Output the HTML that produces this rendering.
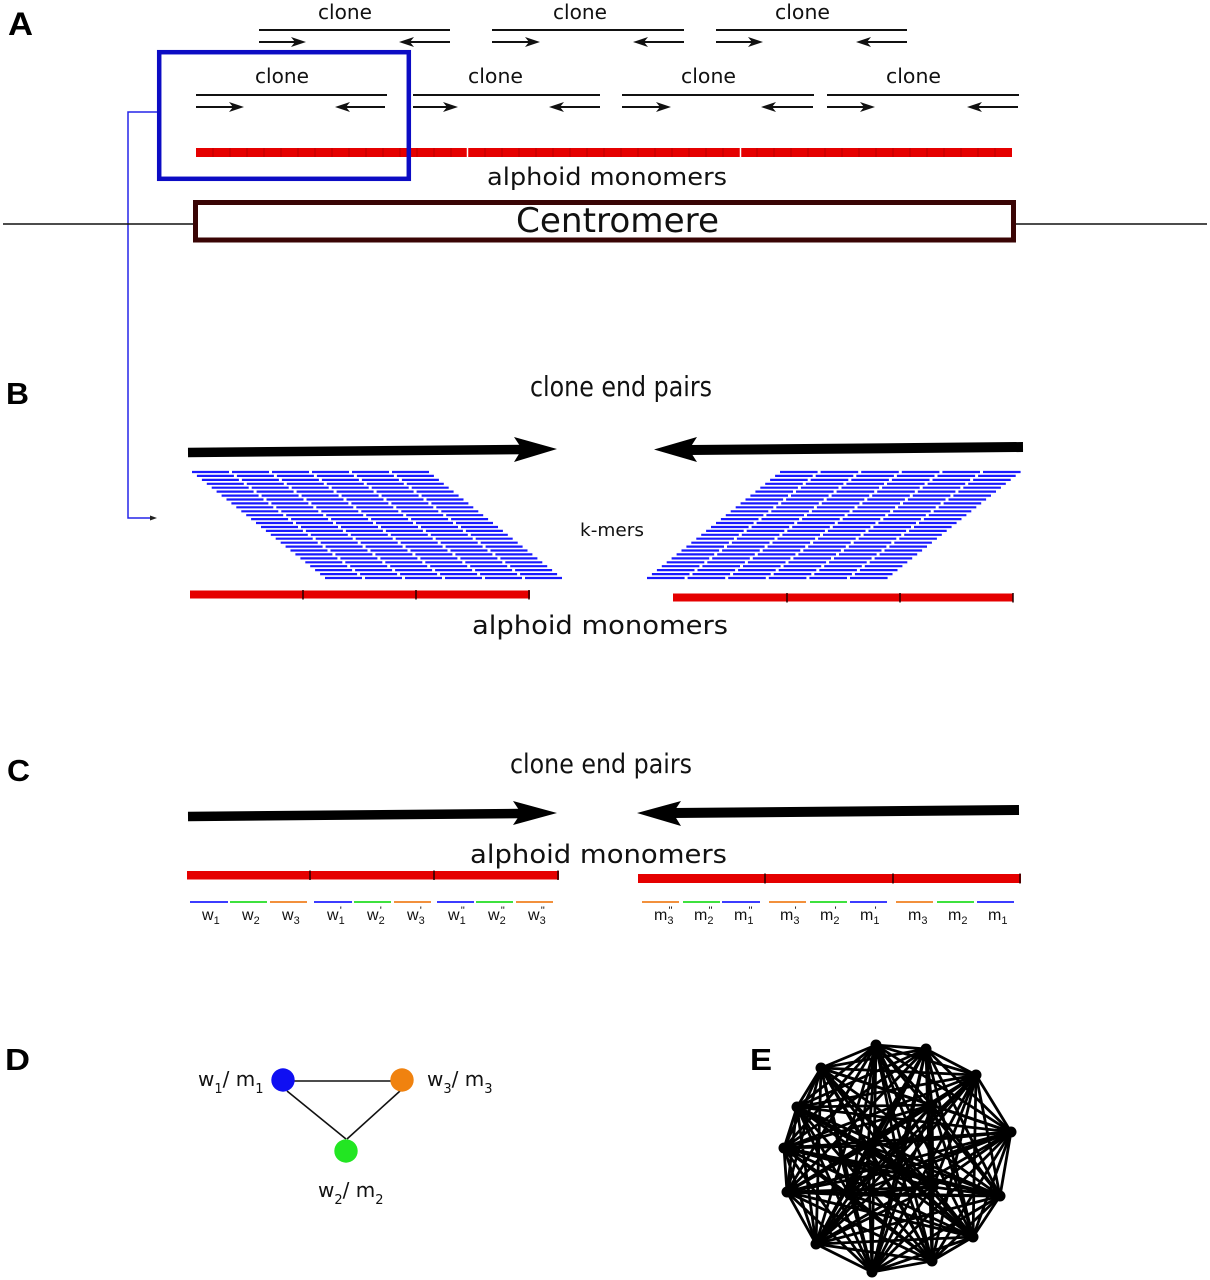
<!DOCTYPE html>
<html>
<head>
<meta charset="utf-8">
<style>
html,body{margin:0;padding:0;background:#fff;}
svg{display:block;}
text{font-family:"DejaVu Sans","Liberation Sans",sans-serif;fill:#111;}
.lbl{font-family:"Liberation Sans","DejaVu Sans",sans-serif;font-weight:bold;fill:#000;}
.sm{font-family:"Liberation Sans","DejaVu Sans",sans-serif;font-size:16px;}
</style>
</head>
<body>
<svg width="1210" height="1280" viewBox="0 0 1210 1280" xmlns="http://www.w3.org/2000/svg">
<rect width="1210" height="1280" fill="#fff"/>

<!-- ===== Panel A ===== -->
<text class="lbl" x="8" y="35" font-size="32" textLength="25" lengthAdjust="spacingAndGlyphs">A</text>

<g stroke="#111" stroke-width="2" fill="none">
  <line x1="259" y1="30" x2="450" y2="30"/>
  <line x1="492" y1="30" x2="684" y2="30"/>
  <line x1="716" y1="30" x2="907" y2="30"/>
  <line x1="259" y1="42" x2="296" y2="42"/>
  <line x1="450" y1="42" x2="409" y2="42"/>
  <line x1="492" y1="42" x2="530" y2="42"/>
  <line x1="684" y1="42" x2="643" y2="42"/>
  <line x1="716" y1="42" x2="753" y2="42"/>
  <line x1="907" y1="42" x2="866" y2="42"/>
  <line x1="196" y1="95" x2="387" y2="95"/>
  <line x1="413" y1="95" x2="600" y2="95"/>
  <line x1="622" y1="95" x2="814" y2="95"/>
  <line x1="827" y1="95" x2="1019" y2="95"/>
  <line x1="196" y1="107" x2="234" y2="107"/>
  <line x1="385" y1="107" x2="345" y2="107"/>
  <line x1="413" y1="107" x2="448" y2="107"/>
  <line x1="600" y1="107" x2="559" y2="107"/>
  <line x1="622" y1="107" x2="661" y2="107"/>
  <line x1="813" y1="107" x2="771" y2="107"/>
  <line x1="827" y1="107" x2="865" y2="107"/>
  <line x1="1018" y1="107" x2="977" y2="107"/>
</g>
<g fill="#111">
  <polygon points="306,42 291,37 295,42 291,47"/>
  <polygon points="399,42 414,37 410,42 414,47"/>
  <polygon points="540,42 525,37 529,42 525,47"/>
  <polygon points="633,42 648,37 644,42 648,47"/>
  <polygon points="763,42 748,37 752,42 748,47"/>
  <polygon points="856,42 871,37 867,42 871,47"/>
  <polygon points="244,107 229,102 233,107 229,112"/>
  <polygon points="335,107 350,102 346,107 350,112"/>
  <polygon points="458,107 443,102 447,107 443,112"/>
  <polygon points="549,107 564,102 560,107 564,112"/>
  <polygon points="671,107 656,102 660,107 656,112"/>
  <polygon points="761,107 776,102 772,107 776,112"/>
  <polygon points="875,107 860,102 864,107 860,112"/>
  <polygon points="967,107 982,102 978,107 982,112"/>
</g>
<g font-size="20">
  <text x="318" y="19" textLength="54" lengthAdjust="spacingAndGlyphs">clone</text>
  <text x="553" y="19" textLength="54" lengthAdjust="spacingAndGlyphs">clone</text>
  <text x="775" y="19" textLength="55" lengthAdjust="spacingAndGlyphs">clone</text>
  <text x="255" y="83" textLength="54" lengthAdjust="spacingAndGlyphs">clone</text>
  <text x="468" y="83" textLength="55" lengthAdjust="spacingAndGlyphs">clone</text>
  <text x="681" y="83" textLength="55" lengthAdjust="spacingAndGlyphs">clone</text>
  <text x="886" y="83" textLength="55" lengthAdjust="spacingAndGlyphs">clone</text>
</g>

<rect x="196" y="148" width="816" height="9" fill="#e50000"/>
<path d="M213 148v9M230 148v9M247 148v9M264 148v9M281 148v9M298 148v9M315 148v9M332 148v9M349 148v9M366 148v9M383 148v9M400 148v9M417 148v9M434 148v9M451 148v9M485 148v9M502 148v9M519 148v9M536 148v9M553 148v9M570 148v9M587 148v9M604 148v9M621 148v9M638 148v9M655 148v9M672 148v9M689 148v9M706 148v9M723 148v9M757 148v9M774 148v9M791 148v9M808 148v9M825 148v9M842 148v9M859 148v9M876 148v9M893 148v9M910 148v9M927 148v9M944 148v9M961 148v9M978 148v9M995 148v9" stroke="#a00000" stroke-width="0.9" opacity="0.7"/>
<path d="M467.5 147v11M740.5 147v11" stroke="#fff" stroke-width="1.5"/>
<text x="487" y="185" font-size="24" textLength="240" lengthAdjust="spacingAndGlyphs">alphoid monomers</text>

<rect x="159.2" y="52.2" width="249.6" height="126.6" fill="none" stroke="#0c0cc4" stroke-width="4.5"/>
<polyline points="157,112 128,112 128,518 150,518" fill="none" stroke="#2525e8" stroke-width="1.5"/>
<polygon points="157,518 150,515.5 150,520.5" fill="#222"/>

<line x1="3" y1="224" x2="194" y2="224" stroke="#111" stroke-width="1.5"/>
<line x1="1015" y1="224" x2="1207" y2="224" stroke="#111" stroke-width="1.5"/>
<rect x="195.5" y="202.5" width="818" height="37.5" fill="#fff" stroke="#3a0505" stroke-width="5"/>
<text x="516" y="232" font-size="34" textLength="203" lengthAdjust="spacingAndGlyphs">Centromere</text>

<!-- ===== Panel B ===== -->
<text class="lbl" x="6" y="404" font-size="31" textLength="23" lengthAdjust="spacingAndGlyphs">B</text>
<text x="530" y="396" font-size="28" textLength="182" lengthAdjust="spacingAndGlyphs">clone end pairs</text>

<line x1="188" y1="452.5" x2="524" y2="449.5" stroke="#000" stroke-width="9.5"/>
<polygon points="557,449 514,437 522,449 514,462" fill="#000"/>
<line x1="1023" y1="447" x2="689" y2="450" stroke="#000" stroke-width="10"/>
<polygon points="654,449.5 697,437 689,449.5 697,462" fill="#000"/>

<text x="580" y="536" font-size="18" textLength="64" lengthAdjust="spacingAndGlyphs">k-mers</text>

<path fill="none" stroke="#1a1aff" stroke-width="2.2" stroke-dasharray="37 3" d="M192 472h238M196.9 475.9h238M201.9 479.9h238M206.8 483.8h238M211.7 487.7h238M216.6 491.6h238M221.6 495.6h238M226.5 499.5h238M231.4 503.4h238M236.3 507.3h238M241.3 511.3h238M246.2 515.2h238M251.1 519.1h238M256 523h238M261 527h238M265.9 530.9h238M270.8 534.8h238M275.7 538.7h238M280.7 542.7h238M285.6 546.6h238M290.5 550.5h238M295.4 554.4h238M300.4 558.4h238M305.3 562.3h238M310.2 566.2h238M315.1 570.1h238M320.1 574.1h238M325 578h238"/>
<path fill="none" stroke="#1a1aff" stroke-width="2.2" stroke-dasharray="37.6 3" d="M780 472h241M775.1 475.9h241M770.1 479.9h241M765.2 483.8h241M760.3 487.7h241M755.4 491.6h241M750.4 495.6h241M745.5 499.5h241M740.6 503.4h241M735.7 507.3h241M730.7 511.3h241M725.8 515.2h241M720.9 519.1h241M716 523h241M711 527h241M706.1 530.9h241M701.2 534.8h241M696.3 538.7h241M691.3 542.7h241M686.4 546.6h241M681.5 550.5h241M676.6 554.4h241M671.6 558.4h241M666.7 562.3h241M661.8 566.2h241M656.9 570.1h241M651.9 574.1h241M647 578h241"/>

<rect x="190" y="590.5" width="340" height="8" fill="#e50000"/>
<path d="M303 590v9.5M416 590v9.5M529 590v9.5" stroke="#200" stroke-width="1.5"/>
<rect x="673" y="593.5" width="340" height="8" fill="#e50000"/>
<path d="M787 593v9.5M900 593v9.5M1013 593v9.5" stroke="#200" stroke-width="1.5"/>
<text x="472" y="634" font-size="26" textLength="256" lengthAdjust="spacingAndGlyphs">alphoid monomers</text>

<!-- ===== Panel C ===== -->
<text class="lbl" x="7" y="781" font-size="31" textLength="23" lengthAdjust="spacingAndGlyphs">C</text>
<text x="510" y="773" font-size="27" textLength="182" lengthAdjust="spacingAndGlyphs">clone end pairs</text>

<line x1="188" y1="816.5" x2="521" y2="813.5" stroke="#000" stroke-width="9.5"/>
<polygon points="557,813 513,801 521,813 513,825" fill="#000"/>
<line x1="1019" y1="810" x2="673" y2="813" stroke="#000" stroke-width="10"/>
<polygon points="637,813 681,801 673,813 681,826" fill="#000"/>

<text x="470" y="863" font-size="26" textLength="257" lengthAdjust="spacingAndGlyphs">alphoid monomers</text>

<rect x="187" y="871" width="372" height="8.5" fill="#e50000"/>
<path d="M310 870.5v9.5M434 870.5v9.5M558 870.5v9.5" stroke="#200" stroke-width="1.5"/>
<rect x="638" y="874" width="383" height="9" fill="#e50000"/>
<path d="M765 873.5v10M893 873.5v10M1020 873.5v10" stroke="#200" stroke-width="1.5"/>

<g stroke-width="1.8">
  <line x1="190" y1="902" x2="228" y2="902" stroke="#2020ff"/>
  <line x1="230" y1="902" x2="267" y2="902" stroke="#22dd22"/>
  <line x1="270" y1="902" x2="307" y2="902" stroke="#f08020"/>
  <line x1="314" y1="902" x2="352" y2="902" stroke="#2020ff"/>
  <line x1="354" y1="902" x2="391" y2="902" stroke="#22dd22"/>
  <line x1="394" y1="902" x2="431" y2="902" stroke="#f08020"/>
  <line x1="437" y1="902" x2="474" y2="902" stroke="#2020ff"/>
  <line x1="476" y1="902" x2="513" y2="902" stroke="#22dd22"/>
  <line x1="516" y1="902" x2="553" y2="902" stroke="#f08020"/>
  <line x1="642" y1="902" x2="679" y2="902" stroke="#f08020"/>
  <line x1="683" y1="902" x2="720" y2="902" stroke="#22dd22"/>
  <line x1="722" y1="902" x2="760" y2="902" stroke="#2020ff"/>
  <line x1="769" y1="902" x2="806" y2="902" stroke="#f08020"/>
  <line x1="810" y1="902" x2="847" y2="902" stroke="#22dd22"/>
  <line x1="850" y1="902" x2="887" y2="902" stroke="#2020ff"/>
  <line x1="896" y1="902" x2="933" y2="902" stroke="#f08020"/>
  <line x1="937" y1="902" x2="974" y2="902" stroke="#22dd22"/>
  <line x1="977" y1="902" x2="1014" y2="902" stroke="#2020ff"/>
</g>

<g>
  <text class="sm" x="202" y="920">w<tspan font-size="11" dy="4">1</tspan></text>
  <text class="sm" x="242" y="920">w<tspan font-size="11" dy="4">2</tspan></text>
  <text class="sm" x="282" y="920">w<tspan font-size="11" dy="4">3</tspan></text>
  <text class="sm" x="327" y="920">w<tspan font-size="11" dy="4">1</tspan><tspan font-size="11" dx="-5" dy="-10">'</tspan></text>
  <text class="sm" x="367" y="920">w<tspan font-size="11" dy="4">2</tspan><tspan font-size="11" dx="-5" dy="-10">'</tspan></text>
  <text class="sm" x="407" y="920">w<tspan font-size="11" dy="4">3</tspan><tspan font-size="11" dx="-5" dy="-10">'</tspan></text>
  <text class="sm" x="448" y="920">w<tspan font-size="11" dy="4">1</tspan><tspan font-size="11" dx="-5" dy="-10">''</tspan></text>
  <text class="sm" x="488" y="920">w<tspan font-size="11" dy="4">2</tspan><tspan font-size="11" dx="-5" dy="-10">''</tspan></text>
  <text class="sm" x="528" y="920">w<tspan font-size="11" dy="4">3</tspan><tspan font-size="11" dx="-5" dy="-10">''</tspan></text>

  <text class="sm" x="654" y="920">m<tspan font-size="11" dy="4">3</tspan><tspan font-size="11" dx="-5" dy="-10">''</tspan></text>
  <text class="sm" x="694" y="920">m<tspan font-size="11" dy="4">2</tspan><tspan font-size="11" dx="-5" dy="-10">''</tspan></text>
  <text class="sm" x="734" y="920">m<tspan font-size="11" dy="4">1</tspan><tspan font-size="11" dx="-5" dy="-10">''</tspan></text>
  <text class="sm" x="780" y="920">m<tspan font-size="11" dy="4">3</tspan><tspan font-size="11" dx="-5" dy="-10">'</tspan></text>
  <text class="sm" x="820" y="920">m<tspan font-size="11" dy="4">2</tspan><tspan font-size="11" dx="-5" dy="-10">'</tspan></text>
  <text class="sm" x="860" y="920">m<tspan font-size="11" dy="4">1</tspan><tspan font-size="11" dx="-5" dy="-10">'</tspan></text>
  <text class="sm" x="908" y="920">m<tspan font-size="11" dy="4">3</tspan></text>
  <text class="sm" x="948" y="920">m<tspan font-size="11" dy="4">2</tspan></text>
  <text class="sm" x="988" y="920">m<tspan font-size="11" dy="4">1</tspan></text>
</g>

<!-- ===== Panel D ===== -->
<text class="lbl" x="5" y="1070" font-size="31" textLength="25" lengthAdjust="spacingAndGlyphs">D</text>
<g stroke="#111" stroke-width="1.6">
  <line x1="283" y1="1081" x2="402" y2="1081"/>
  <line x1="287" y1="1091" x2="346" y2="1139"/>
  <line x1="400" y1="1091" x2="347" y2="1139"/>
</g>
<circle cx="283" cy="1080" r="11.7" fill="#0f0ff2"/>
<circle cx="402" cy="1080" r="11.7" fill="#f0820f"/>
<circle cx="346" cy="1151" r="11.7" fill="#22e622"/>
<text x="198" y="1086" font-size="20">w<tspan font-size="13" dy="7">1</tspan><tspan dy="-7">/ m</tspan><tspan font-size="13" dy="7">1</tspan></text>
<text x="427" y="1086" font-size="20">w<tspan font-size="13" dy="7">3</tspan><tspan dy="-7">/ m</tspan><tspan font-size="13" dy="7">3</tspan></text>
<text x="318" y="1197" font-size="20">w<tspan font-size="13" dy="7">2</tspan><tspan dy="-7">/ m</tspan><tspan font-size="13" dy="7">2</tspan></text>

<!-- ===== Panel E ===== -->
<text class="lbl" x="750" y="1070" font-size="31" textLength="22" lengthAdjust="spacingAndGlyphs">E</text>
<g fill="none" stroke="#000" stroke-width="2.8" stroke-linejoin="round">
  <polygon points="876,1045 926,1049 976,1075 1011,1132 1000,1196 973,1237 932,1261 872,1272 816,1244 787,1192 784,1148 797,1107 821,1068 868,1146 932,1105 933,1187 850,1195"/>
  <polygon points="876,1045 976,1075 1000,1196 932,1261 816,1244 784,1148 821,1068 932,1105 850,1195 926,1049 1011,1132 973,1237 872,1272 787,1192 797,1107 868,1146 933,1187"/>
  <polygon points="876,1045 1011,1132 932,1261 787,1192 821,1068 933,1187 926,1049 1000,1196 872,1272 784,1148 868,1146 850,1195 976,1075 973,1237 816,1244 797,1107 932,1105"/>
  <polygon points="876,1045 1000,1196 816,1244 821,1068 850,1195 1011,1132 872,1272 797,1107 933,1187 976,1075 932,1261 784,1148 932,1105 926,1049 973,1237 787,1192 868,1146"/>
  <polygon points="876,1045 973,1237 784,1148 933,1187 1011,1132 816,1244 868,1146 926,1049 932,1261 797,1107 850,1195 1000,1196 787,1192 932,1105 976,1075 872,1272 821,1068"/>
  <polygon points="876,1045 932,1261 821,1068 926,1049 872,1272 868,1146 976,1075 816,1244 932,1105 1011,1132 787,1192 933,1187 1000,1196 784,1148 850,1195 973,1237 797,1107"/>
  <polygon points="876,1045 872,1272 932,1105 1000,1196 797,1107 926,1049 816,1244 933,1187 973,1237 821,1068 976,1075 787,1192 850,1195 932,1261 868,1146 1011,1132 784,1148"/>
  <polygon points="876,1045 816,1244 850,1195 872,1272 933,1187 932,1261 932,1105 973,1237 868,1146 1000,1196 821,1068 1011,1132 797,1107 976,1075 784,1148 926,1049 787,1192"/>
  <!-- extra interior hub -->
  <path d="M900 1170L876 1045M900 1170L926 1049M900 1170L976 1075M900 1170L1011 1132M900 1170L1000 1196M900 1170L973 1237M900 1170L932 1261M900 1170L872 1272M900 1170L816 1244M900 1170L787 1192M900 1170L784 1148M900 1170L797 1107M900 1170L821 1068"/>
</g>
<g fill="#000">
  <circle cx="876" cy="1045" r="5.5"/><circle cx="926" cy="1049" r="5.5"/><circle cx="976" cy="1075" r="5.5"/>
  <circle cx="1011" cy="1132" r="5.5"/><circle cx="1000" cy="1196" r="5.5"/><circle cx="973" cy="1237" r="5.5"/>
  <circle cx="932" cy="1261" r="5.5"/><circle cx="872" cy="1272" r="5.5"/><circle cx="816" cy="1244" r="5.5"/>
  <circle cx="787" cy="1192" r="5.5"/><circle cx="784" cy="1148" r="5.5"/><circle cx="797" cy="1107" r="5.5"/>
  <circle cx="821" cy="1068" r="5.5"/><circle cx="868" cy="1146" r="5.5"/><circle cx="932" cy="1105" r="5.5"/>
  <circle cx="933" cy="1187" r="5.5"/><circle cx="850" cy="1195" r="5.5"/><circle cx="900" cy="1170" r="5.5"/>
</g>
</svg>
</body>
</html>
